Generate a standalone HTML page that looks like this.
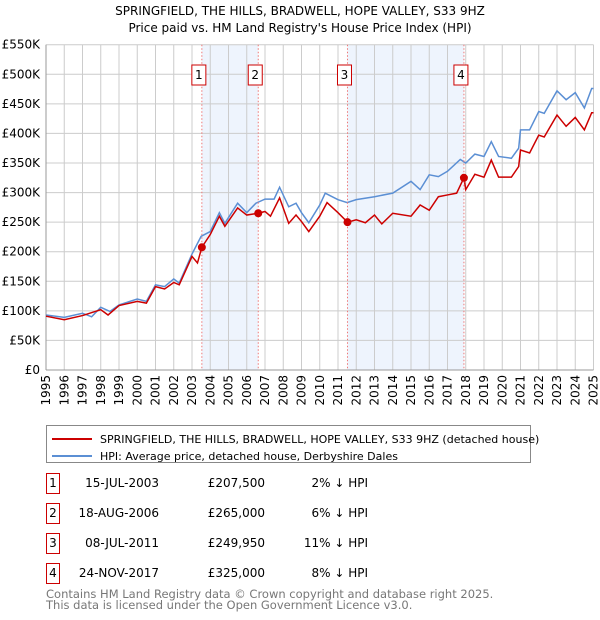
<!DOCTYPE html>
<html><head><meta charset="utf-8"><style>
body{margin:0;background:#fff;font-family:"DejaVu Sans","Liberation Sans",sans-serif;}
#wrap{position:relative;width:600px;height:620px;overflow:hidden;}
.t{position:absolute;font-size:12px;color:#000;white-space:nowrap;}
.box{position:absolute;border:1px solid #c00;width:12px;height:19px;font-size:12px;text-align:center;line-height:19px;}
</style></head><body><div id="wrap">
<div class="t" style="left:0;width:600px;text-align:center;top:3px;font-size:12px;line-height:17px;">SPRINGFIELD, THE HILLS, BRADWELL, HOPE VALLEY, S33 9HZ<br>Price paid vs. HM Land Registry's House Price Index (HPI)</div>
<svg id="c" width="600" height="420" style="position:absolute;left:0;top:0;font-family:'DejaVu Sans',sans-serif"></svg>
<div style="position:absolute;left:46px;top:425px;width:483px;height:36px;border:1px solid #888;">
<div style="position:absolute;left:5px;top:2px;white-space:nowrap"><span style="display:inline-block;width:40px;height:2px;background:#c00;vertical-align:middle;margin-right:8px"></span><span style="font-size:11px">SPRINGFIELD, THE HILLS, BRADWELL, HOPE VALLEY, S33 9HZ (detached house)</span></div>
<div style="position:absolute;left:5px;top:19px;white-space:nowrap"><span style="display:inline-block;width:40px;height:2px;background:#5b8fd4;vertical-align:middle;margin-right:8px"></span><span style="font-size:11px">HPI: Average price, detached house, Derbyshire Dales</span></div>
</div>
<div id="tbl"></div>
<div class="t" style="left:46px;top:589px;color:#777;font-size:11.5px;line-height:11px">Contains HM Land Registry data © Crown copyright and database right 2025.<br>This data is licensed under the Open Government Licence v3.0.</div>
</div>
<script>
const years=[1995,1996,1997,1998,1999,2000,2001,2002,2003,2004,2005,2006,2007,2008,2009,2010,2011,2012,2013,2014,2015,2016,2017,2018,2019,2020,2021,2022,2023,2024,2025];
const yTicks=[0,50,100,150,200,250,300,350,400,450,500,550];
const hpiT=[1995,1996,1997,1997.5,1998,1998.5,1999,2000,2000.5,2001,2001.5,2002,2002.3,2003,2003.5,2004,2004.5,2004.8,2005.5,2006,2006.5,2007,2007.5,2007.8,2008.3,2008.7,2009,2009.4,2010,2010.3,2011,2011.5,2012,2013,2014,2015,2015.5,2016,2016.5,2017,2017.7,2018,2018.5,2019,2019.4,2019.8,2020.5,2020.9,2021,2021.5,2022,2022.3,2023,2023.5,2024,2024.5,2024.9,2025];
const hpiV=[93,89,96,90,106,99,110,120,116,144,141,154,147,196,226,234,266,248,282,266,282,289,289,309,276,282,266,249,279,299,288,283,288,293,299,319,305,330,327,336,356,350,365,361,386,361,358,375,406,406,437,434,472,457,469,443,476,476];
const prT=[1995,1996,1997,1998,1998.4,1999,2000,2000.5,2001,2001.5,2002,2002.3,2003,2003.3,2003.54,2004,2004.5,2004.8,2005.5,2006,2006.63,2007,2007.3,2007.8,2008.3,2008.7,2009,2009.4,2010,2010.4,2011,2011.52,2012,2012.5,2013,2013.4,2014,2015,2015.5,2016,2016.5,2017,2017.5,2017.9,2018,2018.5,2019,2019.4,2019.8,2020.5,2020.9,2021,2021.5,2022,2022.3,2023,2023.5,2024,2024.5,2024.9,2025];
const prV=[91,85,92,102,93,109,116,113,141,137,148,144,192,181,207.5,229,260,243,274,262,265,268,260,291,248,262,251,234,260,283,266,249.95,254,249,262,247,265,260,279,270,293,296,299,325,305,331,326,355,326,326,344,372,367,397,394,431,412,427,406,435,435];
const saleT=[2003.54,2006.63,2011.52,2017.9];
const saleV=[207.5,265,249.95,325];
const saleDates=["15-JUL-2003","18-AUG-2006","08-JUL-2011","24-NOV-2017"];
const salePrices=["£207,500","£265,000","£249,950","£325,000"];
const salePct=["2% ↓ HPI","6% ↓ HPI","11% ↓ HPI","8% ↓ HPI"];
const X0=46,X1=593.5,Y0=370,Y1=44.7;
const x=t=>X0+(t-1995)*(X1-X0)/30;
const y=v=>Y0-v*(Y0-Y1)/550;
const svg=document.getElementById('c');const NS='http://www.w3.org/2000/svg';
function mk(tag,a,name,parent){const e=document.createElementNS(NS,tag);for(const k in a)e.setAttribute(k,a[k]);


(parent||svg).appendChild(e);return e;}
mk('rect',{x:x(saleT[0]),y:Y1,width:x(saleT[1])-x(saleT[0]),height:Y0-Y1,fill:'#eef4fd'},'shade-1-2');
mk('rect',{x:x(saleT[2]),y:Y1,width:x(saleT[3])-x(saleT[2]),height:Y0-Y1,fill:'#eef4fd'},'shade-3-4');
years.forEach(yr=>{mk('line',{x1:x(yr),x2:x(yr),y1:Y1,y2:Y0,stroke:'#ccc','stroke-width':1},'x-grid');
const tx=mk('text',{x:0,y:0,transform:`translate(${x(yr)+4},${Y0+5}) rotate(-90)`,'text-anchor':'end','font-size':12,fill:'#000'},'x-tick-label');tx.textContent=yr;});
yTicks.forEach(v=>{mk('line',{x1:X0,x2:X1,y1:y(v),y2:y(v),stroke:'#ccc','stroke-width':1},'y-grid');
const tx=mk('text',{x:X0-6,y:y(v)+4,'text-anchor':'end','font-size':12,fill:'#000'},'y-tick-label');tx.textContent=v===0?'£0':'£'+v+'K';});
mk('line',{x1:X0,x2:X0,y1:Y1,y2:Y0,stroke:'#999'},'y-axis');
mk('line',{x1:X0,x2:X1,y1:Y0,y2:Y0,stroke:'#999'},'x-axis');
mk('polyline',{points:hpiT.map((t,i)=>x(t)+','+y(hpiV[i])).join(' '),fill:'none',stroke:'#5b8fd4','stroke-width':1.5},'hpi-line');
mk('polyline',{points:prT.map((t,i)=>x(t)+','+y(prV[i])).join(' '),fill:'none',stroke:'#cc0000','stroke-width':1.5},'price-line');
saleT.forEach((t,i)=>{mk('line',{x1:x(t),x2:x(t),y1:Y1,y2:Y0,stroke:'#e77','stroke-width':1,'stroke-dasharray':'1.5,2'},'sale-marker-line');
mk('circle',{cx:x(t),cy:y(saleV[i]),r:4,fill:'#cc0000'},'sale-point-'+(i+1));
mk('rect',{x:x(t)-10,y:65,width:14,height:20,fill:'#fff',stroke:'#c00'},'sale-label-box');
const tx=mk('text',{x:x(t)-3,y:79,'text-anchor':'middle','font-size':12},'sale-label');tx.textContent=i+1;});
const tb=document.getElementById('tbl');
saleT.forEach((t,i)=>{const top=473+i*30;
const r=document.createElement('div');


r.innerHTML=`<div class="box" style="left:46px;top:${top}px">${i+1}</div><div class="t" style="left:60px;width:99px;text-align:right;top:${top+3}px">${saleDates[i]}</div><div class="t" style="left:160px;width:105px;text-align:right;top:${top+3}px">${salePrices[i]}</div><div class="t" style="left:270px;width:98px;text-align:right;top:${top+3}px">${salePct[i]}</div>`;
tb.appendChild(r);});
</script></body></html>
